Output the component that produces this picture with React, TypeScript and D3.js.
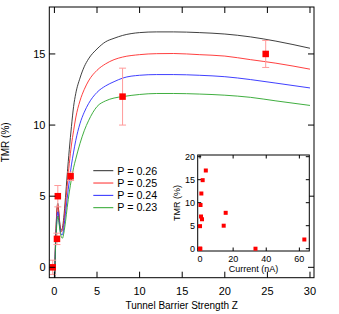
import * as d3 from 'd3';

// barrier strength Z at which the model curves were read
const zGrid = [0, 0.1, 0.2, 0.3, 0.4, 0.5, 0.65, 0.8, 0.95, 1.1, 1.3, 1.5, 1.75, 2, 2.25, 2.5, 3, 3.5, 4, 5, 6, 7, 8, 10, 12, 14, 17, 20, 23, 26, 30];
const tmrP26 = [-2, 1.2, 2.9, 4.1, 4.5, 4.0, 3.0, 2.6, 2.8, 3.5, 4.9, 6.5, 8.3, 9.9, 11.3, 12.2, 13.3, 14.1, 14.65, 15.35, 15.85, 16.1, 16.3, 16.5, 16.55, 16.55, 16.5, 16.4, 16.2, 15.9, 15.4];
const tmrP25 = [-2, 1.1, 2.8, 4.0, 4.4, 3.9, 2.9, 2.5, 2.6, 3.2, 4.4, 5.7, 7.3, 8.6, 9.6, 10.5, 11.7, 12.5, 13.1, 13.85, 14.3, 14.6, 14.78, 14.95, 15.02, 15.03, 14.95, 14.85, 14.6, 14.35, 13.93];
const tmrP24 = [-2, 0.9, 2.4, 3.5, 3.9, 3.5, 2.7, 2.3, 2.3, 2.8, 3.8, 4.85, 6.1, 7.2, 8.1, 8.9, 10.1, 10.9, 11.5, 12.3, 12.75, 13.05, 13.3, 13.5, 13.55, 13.55, 13.5, 13.4, 13.2, 12.95, 12.61];
const tmrP23 = [-2, 0.8, 2.2, 3.2, 3.6, 3.3, 2.6, 2.15, 2.05, 2.4, 3.2, 4.2, 5.3, 6.2, 7.0, 7.6, 8.7, 9.6, 10.3, 11.3, 11.7, 11.9, 12.0, 12.15, 12.22, 12.22, 12.18, 12.1, 11.95, 11.7, 11.38];

const seriesNames = ['P = 0.26', 'P = 0.25', 'P = 0.24', 'P = 0.23'];
const seriesColors = ['#2a2a2a', '#ff2a2a', '#2a2aff', '#2aa52a'];

// measured points
const measZ = [-0.2, 0.3, 0.4, 1.9, 8, 24.8];
const measTmr = [0, 2, 5, 6.4, 12, 15];
const measErr = [0.5, 0.4, 0.75, 0.3, 2, 0.95];

// inset: TMR vs current
const insetCurrent = [0, 0.2, 0, 0.6, 0.3, 0.8, 1.2, 1.6, 3.5, 14.3, 15.5, 33.5, 63];
const insetTmr = [0, 0, 4.9, 7, 9.5, 12, 6.4, 14.9, 17, 5, 7.8, 0, 2];

const mainXTicks = [0, 5, 10, 15, 20, 25, 30];
const mainYTicks = [0, 5, 10, 15];
const insetXTicks = [0, 20, 40, 60];
const insetYTicks = [0, 5, 10, 15, 20];

const W = 339;
const H = 314;
const font = 'Liberation Sans, Arial, Helvetica, sans-serif';

export default function App() {
  const x = d3.scaleLinear().domain([-0.6, 30.47]).range([49.3, 314]);
  const y = d3.scaleLinear().domain([-0.73, 18.3]).range([277.7, 7]);
  const [x0, x1] = x.range();
  const [y0, y1] = y.range();

  const ix = d3.scaleLinear().domain([-1.4, 66]).range([197.7, 309.3]);
  const iy = d3.scaleLinear().domain([-0.5, 20.37]).range([251, 155]);
  const [ix0, ix1] = ix.range();
  const [iy0, iy1] = iy.range();

  const curves = [tmrP26, tmrP25, tmrP24, tmrP23];
  const line = d3
    .line<number>()
    .x((_, i) => x(zGrid[i]))
    .y((d) => y(d))
    .curve(d3.curveMonotoneX);

  const tick = 6;
  const itick = 3.5;
  const sq = 6.5;
  const isq = 4;

  return (
    <svg width={W} height={H} style={{ position: 'absolute', left: 0, top: 0, background: '#fff' }}>
      <defs>
        <clipPath id="plotclip">
          <rect x={x0} y={y1} width={x1 - x0} height={y0 - y1} />
        </clipPath>
      </defs>

      {/* model curves */}
      <g clipPath="url(#plotclip)">
        {curves.map((c, k) => (
          <path key={k} d={line(c) || ''} fill="none" stroke={seriesColors[k]} strokeWidth={0.9} />
        ))}
      </g>

      {/* error bars + points */}
      <g>
        {measZ.map((z, i) => (
          <g key={i} stroke="#ff9a9a" strokeWidth={1}>
            <line x1={x(z)} x2={x(z)} y1={y(measTmr[i] - measErr[i])} y2={y(measTmr[i] + measErr[i])} />
            <line x1={x(z) - 3.5} x2={x(z) + 3.5} y1={y(measTmr[i] - measErr[i])} y2={y(measTmr[i] - measErr[i])} />
            <line x1={x(z) - 3.5} x2={x(z) + 3.5} y1={y(measTmr[i] + measErr[i])} y2={y(measTmr[i] + measErr[i])} />
          </g>
        ))}
        {measZ.map((z, i) => (
          <rect key={i} x={x(z) - sq / 2} y={y(measTmr[i]) - sq / 2} width={sq} height={sq} fill="#ff0000" />
        ))}
      </g>

      {/* frame and mirrored ticks */}
      <rect x={x0} y={y1} width={x1 - x0} height={y0 - y1} fill="none" stroke="#000" strokeWidth={1} />
      {mainXTicks.map((t) => (
        <g key={t} stroke="#000">
          <line x1={x(t)} x2={x(t)} y1={y0} y2={y0 - tick} />
          <line x1={x(t)} x2={x(t)} y1={y1} y2={y1 + tick} />
        </g>
      ))}
      {mainYTicks.map((t) => (
        <g key={t} stroke="#000">
          <line x1={x0} x2={x0 + tick} y1={y(t)} y2={y(t)} />
          <line x1={x1} x2={x1 - tick} y1={y(t)} y2={y(t)} />
        </g>
      ))}
      <g fontFamily={font} fontSize={11} fill="#000">
        {mainXTicks.map((t) => (
          <text key={t} x={x(t)} y={295.3} textAnchor="middle">{t}</text>
        ))}
        {mainYTicks.map((t) => (
          <text key={t} x={45.5} y={y(t) + 3.9} textAnchor="end">{t}</text>
        ))}
      </g>
      <text x={(x0 + x1) / 2} y={309} textAnchor="middle" fontFamily={font} fontSize={10}>
        Tunnel Barrier Strength Z
      </text>
      <text transform={`translate(8.5,${(y0 + y1) / 2}) rotate(-90)`} textAnchor="middle" fontFamily={font} fontSize={10}>
        TMR (%)
      </text>

      {/* legend */}
      <g fontFamily={font} fontSize={10.7}>
        {seriesNames.map((n, k) => (
          <g key={n}>
            <line x1={93.3} x2={113.3} y1={170.7 + k * 12.33} y2={170.7 + k * 12.33} stroke={seriesColors[k]} strokeWidth={1} />
            <text x={117.3} y={170.7 + k * 12.33 + 3.8}>{n}</text>
          </g>
        ))}
      </g>

      {/* inset */}
      <rect x={ix0} y={iy1} width={ix1 - ix0} height={iy0 - iy1} fill="#fff" stroke="#000" strokeWidth={1} />
      {insetXTicks.map((t) => (
        <g key={t} stroke="#000">
          <line x1={ix(t)} x2={ix(t)} y1={iy0} y2={iy0 - itick} />
          <line x1={ix(t)} x2={ix(t)} y1={iy1} y2={iy1 + itick} />
        </g>
      ))}
      {insetYTicks.map((t) => (
        <g key={t} stroke="#000">
          <line x1={ix0} x2={ix0 + itick} y1={iy(t)} y2={iy(t)} />
          <line x1={ix1} x2={ix1 - itick} y1={iy(t)} y2={iy(t)} />
        </g>
      ))}
      {insetCurrent.map((c, i) => (
        <rect key={i} x={ix(c) - isq / 2} y={iy(insetTmr[i]) - isq / 2} width={isq} height={isq} fill="#ff0000" />
      ))}
      <g fontFamily={font} fontSize={9} fill="#000">
        {insetXTicks.map((t) => (
          <text key={t} x={ix(t)} y={262} textAnchor="middle">{t}</text>
        ))}
        {insetYTicks.map((t) => (
          <text key={t} x={195} y={iy(t) + 3.2} textAnchor="end">{t}</text>
        ))}
        <text x={(ix0 + ix1) / 2} y={272} textAnchor="middle">Current (nA)</text>
        <text transform={`translate(180,${(iy0 + iy1) / 2}) rotate(-90)`} textAnchor="middle">TMR (%)</text>
      </g>
    </svg>
  );
}
